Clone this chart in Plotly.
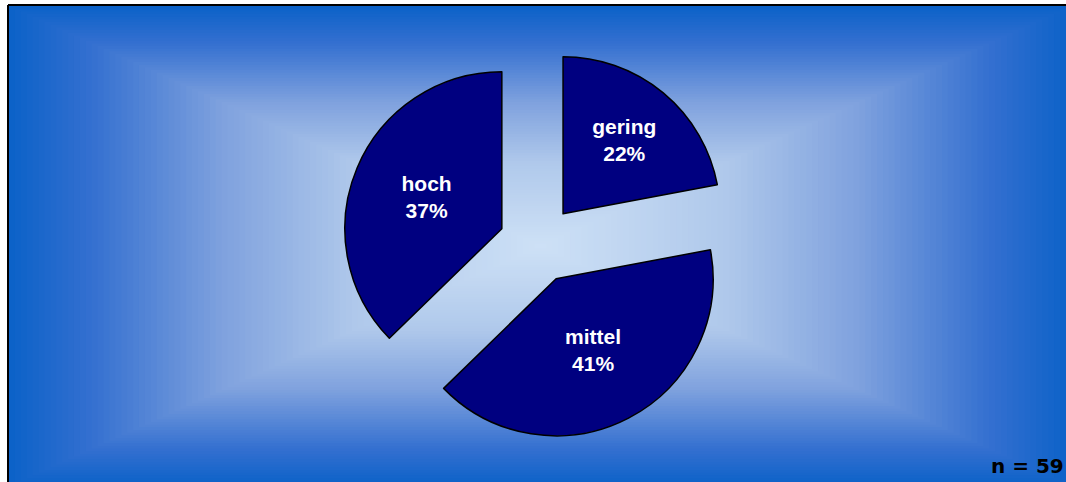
import plotly.graph_objects as go

# Survey result: distribution of ratings (n = 59)
labels = ["gering", "mittel", "hoch"]
counts = [13, 24, 22]
n_total = sum(counts)

W, H = 1066, 482

# Rectangular "from centre" gradient stops: (t, rgb)
grad_stops = [
    (0.0, (206, 225, 246)),
    (0.35, (176, 201, 235)),
    (0.6, (128, 162, 222)),
    (0.85, (52, 112, 208)),
    (1.0, (12, 98, 200)),
]


def grad_color(t):
    for (t0, c0), (t1, c1) in zip(grad_stops[:-1], grad_stops[1:]):
        if t <= t1:
            f = (t - t0) / (t1 - t0)
            return "rgb(%d,%d,%d)" % tuple(round(a + (b - a) * f) for a, b in zip(c0, c1))
    return "rgb(%d,%d,%d)" % grad_stops[-1][1]


def px_x(x):
    return x / W


def px_y(y):
    return 1 - y / H


shapes = []
# background panel extends past the right/bottom edge of the view
x0, x1, y0, y1 = 9, 1072, 6, 486
cx, cy = (x0 + x1) / 2, (y0 + y1) / 2
hw, hh = (x1 - x0) / 2, (y1 - y0) / 2
steps = 90
for i in range(steps, 0, -1):
    s = i / steps
    shapes.append(dict(
        type="rect", xref="paper", yref="paper", layer="below",
        x0=px_x(cx - hw * s), x1=px_x(cx + hw * s),
        y0=px_y(cy + hh * s), y1=px_y(cy - hh * s),
        fillcolor=grad_color(s), line=dict(width=0),
    ))
# frame lines along the top and left edges
for fx0, fy0, fx1, fy1 in [(8, 5, 1080, 5), (8, 5, 8, 495)]:
    shapes.append(dict(
        type="line", xref="paper", yref="paper", layer="below",
        x0=px_x(fx0), y0=px_y(fy0), x1=px_x(fx1), y1=px_y(fy1),
        line=dict(color="black", width=2),
    ))

pie_cx, pie_cy, box = 538, 244, 392.5
fig = go.Figure(go.Pie(
    labels=labels,
    values=counts,
    sort=False,
    direction="clockwise",
    rotation=0,
    pull=[0.25, 0.25, 0.25],
    marker=dict(colors=["#000080"] * 3, line=dict(color="black", width=1.5)),
    texttemplate="%{label}<br>%{percent:.0%}",
    textposition="inside",
    insidetextorientation="horizontal",
    textfont=dict(family="Liberation Sans, Arial, sans-serif", size=21,
                  color="white", weight="bold"),
    hoverinfo="label+percent+value",
    showlegend=False,
    domain=dict(
        x=[px_x(pie_cx - 300), px_x(pie_cx + 300)],
        y=[px_y(pie_cy + box / 2), px_y(pie_cy - box / 2)],
    ),
))

fig.update_layout(
    width=W, height=H,
    margin=dict(l=0, r=0, t=0, b=0),
    paper_bgcolor="white",
    shapes=shapes,
    annotations=[dict(
        text="n = %d" % n_total, xref="paper", yref="paper",
        x=px_x(1066), y=px_y(466), xanchor="right", yanchor="middle",
        showarrow=False,
        font=dict(family="DejaVu Sans, Verdana, sans-serif", size=20,
                  color="black", weight="bold"),
    )],
)

fig.write_html("out.html")
